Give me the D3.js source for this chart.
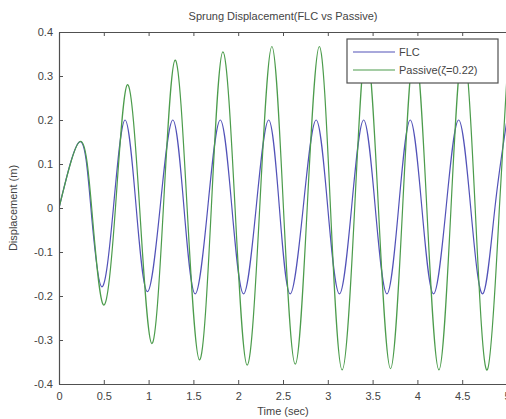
<!DOCTYPE html>
<html>
<head>
<meta charset="utf-8">
<script src="https://cdn.jsdelivr.net/npm/d3@7"></script>
<style>
  body { margin: 0; background: #fff; }
  svg { display: block; font-family: "Liberation Sans", Arial, sans-serif; }
</style>
</head>
<body>
<svg id="chart"></svg>
<script>
// values (peaks, troughs and zero crossings)
const flcTime = [0, 0.235, 0.356, 0.477, 0.607, 0.737, 0.862, 0.987, 1.128, 1.27, 1.395, 1.52, 1.66, 1.80, 1.93, 2.06,
  2.20, 2.34, 2.46, 2.58, 2.725, 2.87, 3.00, 3.13, 3.265, 3.40, 3.53, 3.66, 3.79, 3.92, 4.05, 4.18, 4.32, 4.46,
  4.595, 4.73, 4.865, 5.0];
const flcDisp = [0, 0.151, 0, -0.179, 0, 0.200, 0, -0.190, 0, 0.200, 0, -0.195, 0, 0.200, 0, -0.195,
  0, 0.200, 0, -0.195, 0, 0.200, 0, -0.195, 0, 0.200, 0, -0.195, 0, 0.200, 0, -0.195, 0, 0.200,
  0, -0.195, 0, 0.200];

const passiveTime = [0, 0.235, 0.365, 0.495, 0.63, 0.763, 0.90, 1.035, 1.165, 1.296, 1.43, 1.568, 1.70, 1.829, 1.965, 2.10,
  2.24, 2.376, 2.505, 2.637, 2.77, 2.905, 3.03, 3.16, 3.30, 3.43, 3.565, 3.70, 3.835, 3.97, 4.105, 4.24, 4.375, 4.51,
  4.645, 4.78, 4.915, 5.0];
const passiveDisp = [0, 0.151, 0, -0.220, 0, 0.280, 0, -0.308, 0, 0.336, 0, -0.345, 0, 0.355, 0, -0.357,
  0, 0.367, 0, -0.355, 0, 0.367, 0, -0.368, 0, 0.367, 0, -0.365, 0, 0.367, 0, -0.368, 0, 0.367,
  0, -0.368, 0, 0.300];

const xTicks = [0, 0.5, 1, 1.5, 2, 2.5, 3, 3.5, 4, 4.5, 5];
const xTickLabels = ["0", "0.5", "1", "1.5", "2", "2.5", "3", "3.5", "4", "4.5", "5"];
const yTicks = [-0.4, -0.3, -0.2, -0.1, 0, 0.1, 0.2, 0.3, 0.4];
const yTickLabels = ["-0.4", "-0.3", "-0.2", "-0.1", "0", "0.1", "0.2", "0.3", "0.4"];
const seriesNames = ["FLC", "Passive(\u03B6=0.22)"];
const seriesColors = ["#5252b8", "#4c9c4c"];

const W = 506, H = 419;
const margin = { top: 32, right: -1, bottom: 35, left: 59 };
const svg = d3.select('#chart').attr('width', W).attr('height', H);

const x = d3.scaleLinear().domain([0, 5]).range([margin.left, W - margin.right]);
const y = d3.scaleLinear().domain([-0.4, 0.4]).range([H - margin.bottom, margin.top]);

const axisColor = '#505050';
const textColor = '#444';

// lines
const series = [
  flcTime.map((t, i) => [t, flcDisp[i]]),
  passiveTime.map((t, i) => [t, passiveDisp[i]])
];
const line = d3.line().x(d => x(d[0])).y(d => y(d[1])).curve(d3.curveNatural);
svg.append('clipPath').attr('id', 'clip').append('rect')
  .attr('x', x(0)).attr('y', y(0.4)).attr('width', x(5) - x(0)).attr('height', y(-0.4) - y(0.4));
const g = svg.append('g').attr('clip-path', 'url(#clip)');
[0, 1].forEach(i => {
  g.append('path').datum(series[i]).attr('d', line)
    .attr('fill', 'none').attr('stroke', seriesColors[i]).attr('stroke-width', 1.2);
});

// axes: ticks point inward, box around the plot
const xAxisB = d3.axisBottom(x).tickValues(xTicks).tickFormat((d, i) => xTickLabels[i]).tickSizeInner(-4).tickSizeOuter(0).tickPadding(8);
const xAxisT = d3.axisTop(x).tickValues(xTicks).tickFormat('').tickSizeInner(-4).tickSizeOuter(0);
const yAxisL = d3.axisLeft(y).tickValues(yTicks).tickFormat((d, i) => yTickLabels[i]).tickSizeInner(-4).tickSizeOuter(0).tickPadding(6);

const gx = svg.append('g').attr('transform', `translate(0,${y(-0.4)})`).call(xAxisB);
const gxt = svg.append('g').attr('transform', `translate(0,${y(0.4)})`).call(xAxisT);
const gy = svg.append('g').attr('transform', `translate(${x(0)},0)`).call(yAxisL);
[gx, gxt, gy].forEach(a => {
  a.select('.domain').attr('stroke', axisColor).attr('stroke-width', 1.2);
  a.selectAll('.tick line').attr('stroke', axisColor);
  a.selectAll('.tick text').attr('fill', textColor).style('font-size', '11px');
});
gx.selectAll('.tick text').attr('dy', '0.71em');

// title and axis labels
svg.append('text').attr('x', (x(0) + x(5)) / 2).attr('y', 20).attr('text-anchor', 'middle')
  .attr('fill', textColor).style('font-size', '11px').text('Sprung Displacement(FLC vs Passive)');
svg.append('text').attr('x', (x(0) + x(5)) / 2).attr('y', 415).attr('text-anchor', 'middle')
  .attr('fill', textColor).style('font-size', '11px').text('Time (sec)');
svg.append('text').attr('transform', `translate(17,${y(0)}) rotate(-90)`).attr('text-anchor', 'middle')
  .attr('fill', textColor).style('font-size', '11px').text('Displacement (m)');

// legend
const legend = svg.append('g').attr('transform', 'translate(347,39)');
legend.append('rect').attr('width', 151).attr('height', 44)
  .attr('fill', '#fff').attr('stroke', axisColor).attr('stroke-width', 1.2);
seriesNames.forEach((name, i) => {
  const ly = 13 + i * 18;
  legend.append('line').attr('x1', 6).attr('x2', 48).attr('y1', ly).attr('y2', ly)
    .attr('stroke', seriesColors[i]).attr('stroke-width', 1.2);
  legend.append('text').attr('x', 52).attr('y', ly).attr('dy', '0.35em')
    .attr('fill', textColor).style('font-size', '11px').text(name);
});
</script>
</body>
</html>
